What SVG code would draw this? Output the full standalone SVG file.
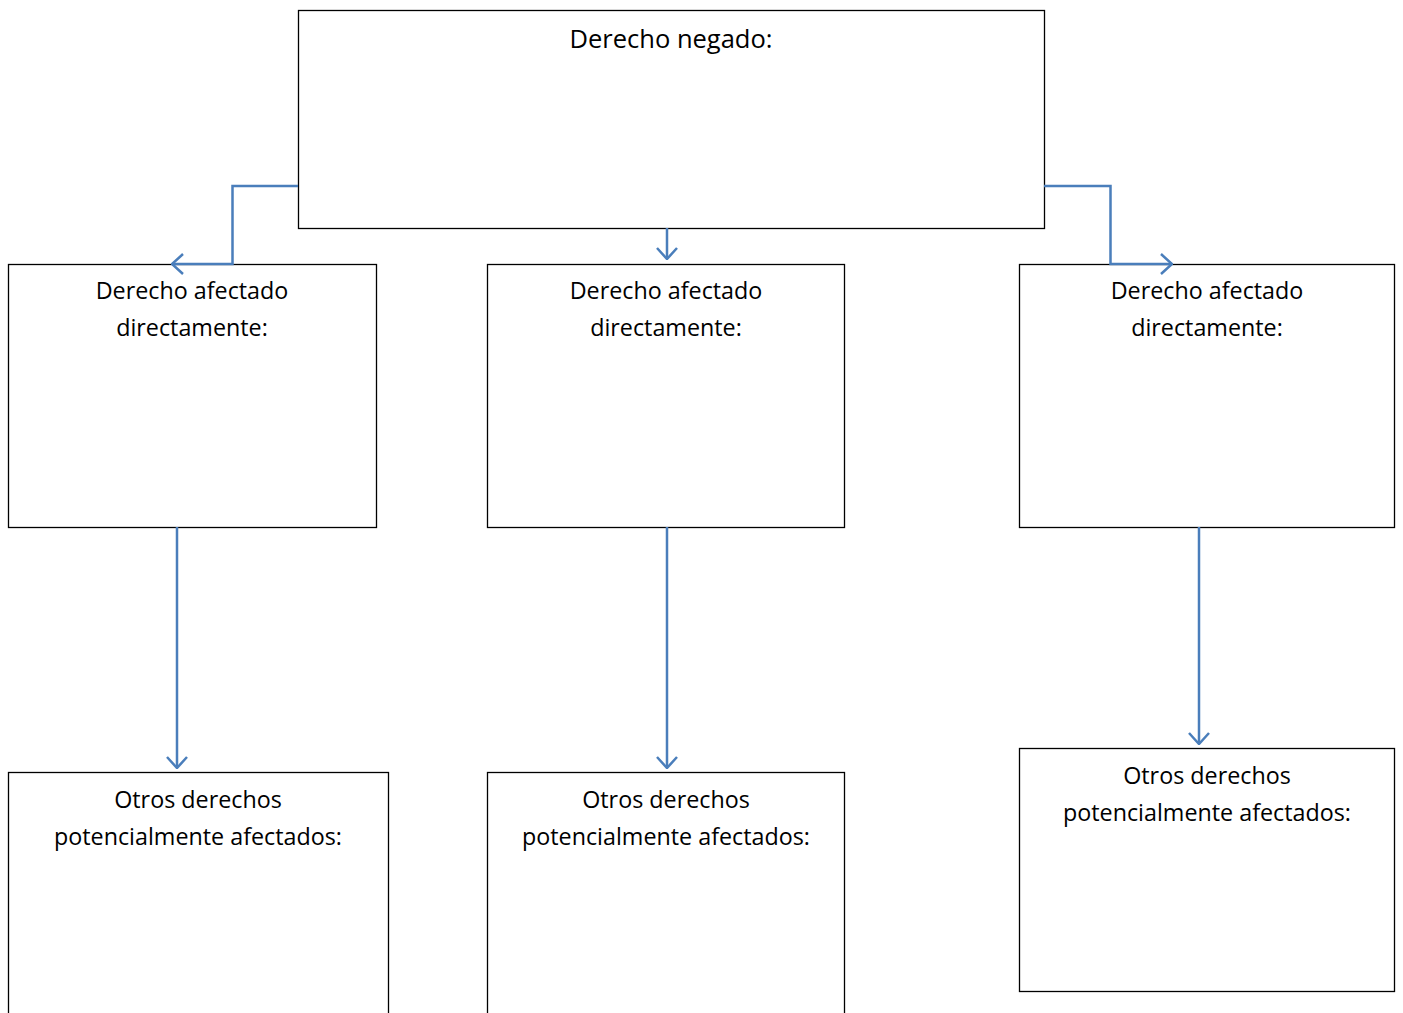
<svg xmlns="http://www.w3.org/2000/svg" width="1403" height="1013" viewBox="0 0 1403 1013">
<style>
.box{fill:#fff;stroke:#000;stroke-width:1.3}
.t{font-family:"Open Sans","Liberation Sans",sans-serif;font-size:23.3px;fill:#000;text-anchor:middle}
.h{font-size:25.5px}
.c{fill:none;stroke:#4a7ebb;stroke-width:2.5}
</style>
<defs>
<marker id="a" viewBox="0 0 13 22" refX="12" refY="11" markerWidth="13" markerHeight="22" markerUnits="userSpaceOnUse" orient="auto">
<path d="M1,1 L12,11 L1,21" fill="none" stroke="#4a7ebb" stroke-width="2.5"/>
</marker>
</defs>
<rect width="1403" height="1013" fill="#fff"/>
<g id="n-top"><rect class="box" x="298.5" y="10.5" width="746" height="218"/><text class="t h" x="671" y="48">Derecho negado:</text></g>
<g id="n-m1"><rect class="box" x="8.5" y="264.5" width="368" height="263"/><text class="t" x="192" y="299">Derecho afectado</text><text class="t" x="192" y="336">directamente:</text></g>
<g id="n-m2"><rect class="box" x="487.5" y="264.5" width="357" height="263"/><text class="t" x="666" y="299">Derecho afectado</text><text class="t" x="666" y="336">directamente:</text></g>
<g id="n-m3"><rect class="box" x="1019.5" y="264.5" width="375" height="263"/><text class="t" x="1207" y="299">Derecho afectado</text><text class="t" x="1207" y="336">directamente:</text></g>
<g id="n-b1"><rect class="box" x="8.5" y="772.5" width="380" height="260"/><text class="t" x="198" y="808">Otros derechos</text><text class="t" x="198" y="845">potencialmente afectados:</text></g>
<g id="n-b2"><rect class="box" x="487.5" y="772.5" width="357" height="260"/><text class="t" x="666" y="808">Otros derechos</text><text class="t" x="666" y="845">potencialmente afectados:</text></g>
<g id="n-b3"><rect class="box" x="1019.5" y="748.5" width="375" height="243"/><text class="t" x="1207" y="784">Otros derechos</text><text class="t" x="1207" y="821">potencialmente afectados:</text></g>
<g id="connectors">
<path class="c" d="M298,186 H232.5 V264 H172" marker-end="url(#a)"/>
<path class="c" d="M1044,186 H1110.5 V264 H1172" marker-end="url(#a)"/>
<path class="c" d="M667,228 V259" marker-end="url(#a)"/>
<path class="c" d="M177,527 V768" marker-end="url(#a)"/>
<path class="c" d="M667,527 V768" marker-end="url(#a)"/>
<path class="c" d="M1199,527 V744" marker-end="url(#a)"/>
</g>
</svg>
